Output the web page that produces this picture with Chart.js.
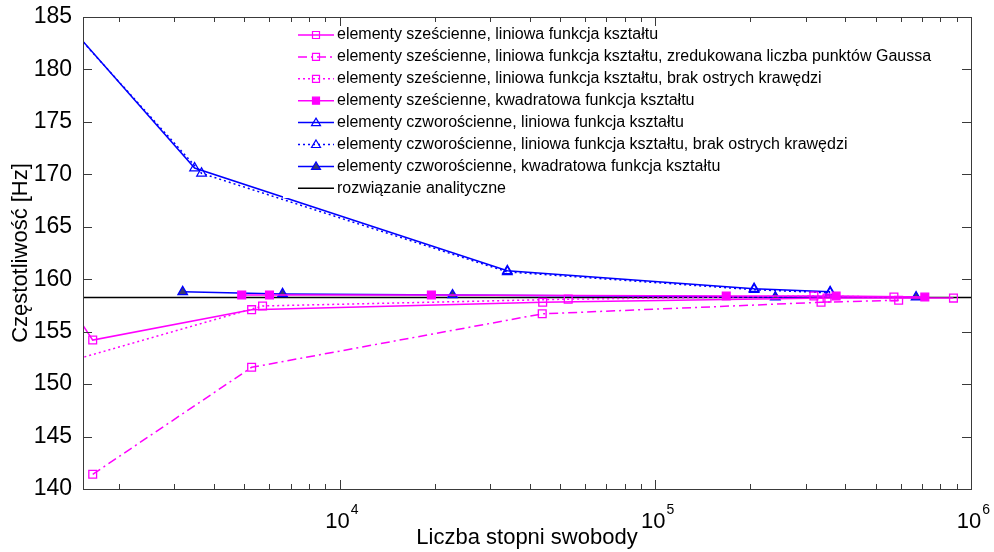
<!DOCTYPE html>
<html>
<head>
<meta charset="utf-8">
<script src="https://cdn.jsdelivr.net/npm/chart.js@4.4.1/dist/chart.umd.min.js"></script>
<style>
  html, body { margin: 0; padding: 0; background: #fff; }
  #wrap { width: 994px; height: 552px; }
</style>
</head>
<body>
<div id="wrap"><canvas id="wykres" width="994" height="552"></canvas></div>
<script>
// liczba stopni swobody (x) i częstotliwość [Hz] (y) dla każdej serii
const xSzescLin = [1400, 1653, 5267, 44000, 350000, 880000];
const ySzescLin = [157.5, 154.2, 157.1, 157.8, 158.2, 158.2];

const xSzescRed = [1653, 5267, 43850, 335000, 590000];
const ySzescRed = [141.4, 151.6, 156.7, 157.8, 158.0];

const xSzescBrak = [1400, 5705, 53000, 318000, 570000];
const ySzescBrak = [152.2, 157.45, 158.1, 158.4, 158.3];

const xSzescKw = [4900, 6000, 19540, 167800, 374000, 714000];
const ySzescKw = [158.5, 158.5, 158.5, 158.4, 158.4, 158.3];

const xCzwLin = [1400, 3475, 34000, 205600, 358000];
const yCzwLin = [184.1, 170.6, 160.8, 159.1, 158.8];

const xCzwBrak = [1400, 3656, 34000, 205600, 358000];
const yCzwBrak = [184.0, 170.1, 160.7, 159.0, 158.7];

const xCzwKw = [3186, 6600, 22800, 240000, 670000];
const yCzwKw = [158.8, 158.6, 158.5, 158.3, 158.3];

const xAnalityczne = [1540, 1000000];
const yAnalityczne = [158.25, 158.25];

const yTicks = [140, 145, 150, 155, 160, 165, 170, 175, 180, 185];
const xDekady = [4, 5, 6];

const FONT = "'Liberation Sans', Arial, sans-serif";
const MAGENTA = "#ff00ff";
const NIEBIESKI = "#0000ff";

const pary = (xs, ys) => xs.map((x, i) => ({ x, y: ys[i] }));

function seria(label, xs, ys, kolor, dash, styl, wypelnienie, r) {
  return {
    label,
    data: pary(xs, ys),
    borderColor: kolor,
    borderWidth: 1.5,
    borderDash: dash,
    pointStyle: styl,
    pointRadius: r,
    pointBorderWidth: 1.3,
    pointBorderColor: kolor,
    pointBackgroundColor: wypelnienie,
    tension: 0,
    fill: false
  };
}

const datasets = [
  seria("elementy sześcienne, liniowa funkcja kształtu", xSzescLin, ySzescLin, MAGENTA, [], "rect", "rgba(0,0,0,0)", 5.5),
  seria("elementy sześcienne, liniowa funkcja kształtu, zredukowana liczba punktów Gaussa", xSzescRed, ySzescRed, MAGENTA, [9, 4, 2, 4], "rect", "rgba(0,0,0,0)", 5.5),
  seria("elementy sześcienne, liniowa funkcja kształtu, brak ostrych krawędzi", xSzescBrak, ySzescBrak, MAGENTA, [2, 3], "rect", "rgba(0,0,0,0)", 5.5),
  seria("elementy sześcienne, kwadratowa funkcja kształtu", xSzescKw, ySzescKw, MAGENTA, [], "rect", MAGENTA, 5.5),
  seria("elementy czworościenne, liniowa funkcja kształtu", xCzwLin, yCzwLin, NIEBIESKI, [], "triangle", "rgba(0,0,0,0)", 5.5),
  seria("elementy czworościenne, liniowa funkcja kształtu, brak ostrych krawędzi", xCzwBrak, yCzwBrak, NIEBIESKI, [2, 3], "triangle", "rgba(0,0,0,0)", 5.5),
  seria("elementy czworościenne, kwadratowa funkcja kształtu", xCzwKw, yCzwKw, NIEBIESKI, [], "triangle", "#3c3c6e", 5.5),
  seria("rozwiązanie analityczne", xAnalityczne, yAnalityczne, "#000000", [], "circle", "#000", 0)
];

// legenda rysowana w obszarze wykresu
const legendaWykresu = {
  id: "legendaWykresu",
  afterDatasetsDraw(chart) {
    const { ctx } = chart;
    const x0 = 283, x1 = 966, yTop = 18, krok = 21.9, y0 = 35;
    ctx.save();
    ctx.fillStyle = "#fff";
    ctx.fillRect(x0, yTop, x1 - x0, 180);
    // dopasowanie rozmiaru czcionki do szerokości najdłuższego opisu
    ctx.font = "15px " + FONT;
    const najdl = Math.max(...chart.data.datasets.map(d => ctx.measureText(d.label).width));
    const rozmiar = Math.min(16, 15 * 619 / najdl);
    chart.data.datasets.forEach((d, i) => {
      const y = y0 + i * krok;
      ctx.strokeStyle = d.borderColor;
      ctx.lineWidth = 1.5;
      ctx.setLineDash(d.borderDash);
      ctx.beginPath();
      ctx.moveTo(298, y);
      ctx.lineTo(334, y);
      ctx.stroke();
      ctx.setLineDash([]);
      if (d.pointRadius > 0) {
        ctx.fillStyle = d.pointBackgroundColor;
        ctx.strokeStyle = d.borderColor;
        ctx.lineWidth = 1.2;
        ctx.beginPath();
        if (d.pointStyle === "rect") {
          ctx.rect(312.5, y - 3.5, 7, 7);
        } else {
          ctx.moveTo(316, y - 4.5);
          ctx.lineTo(320.5, y + 3);
          ctx.lineTo(311.5, y + 3);
          ctx.closePath();
        }
        ctx.fill();
        ctx.stroke();
      }
      ctx.fillStyle = "#000";
      ctx.font = rozmiar + "px " + FONT;
      ctx.textBaseline = "middle";
      ctx.textAlign = "left";
      ctx.fillText(d.label, 337, y);
    });
    ctx.restore();
  }
};

// ramka osi, znaczniki skierowane do środka i opisy dekad
const ramka = {
  id: "ramka",
  afterDraw(chart) {
    const { ctx, chartArea: a, scales: { x, y } } = chart;
    ctx.save();
    ctx.strokeStyle = "#3a3a3a";
    ctx.lineWidth = 1;
    ctx.strokeRect(Math.round(a.left) + 0.5, Math.round(a.top) + 0.5,
      Math.round(a.right - a.left), Math.round(a.bottom - a.top));
    ctx.beginPath();
    yTicks.forEach(v => {
      const py = Math.round(y.getPixelForValue(v)) + 0.5;
      ctx.moveTo(a.left, py); ctx.lineTo(a.left + 9, py);
      ctx.moveTo(a.right, py); ctx.lineTo(a.right - 9, py);
    });
    for (let d = 3; d <= 6; d++) {
      for (let m = 1; m <= 9; m++) {
        const v = m * Math.pow(10, d);
        if (v < x.min || v > x.max) continue;
        const px = Math.round(x.getPixelForValue(v)) + 0.5;
        const dl = m === 1 ? 9 : 5;
        ctx.moveTo(px, a.bottom); ctx.lineTo(px, a.bottom - dl);
        ctx.moveTo(px, a.top); ctx.lineTo(px, a.top + dl);
      }
    }
    ctx.stroke();
    ctx.fillStyle = "#000";
    ctx.textBaseline = "alphabetic";
    xDekady.forEach(e => {
      const px = x.getPixelForValue(Math.pow(10, e));
      ctx.font = "22px " + FONT;
      const w = ctx.measureText("10").width;
      ctx.textAlign = "left";
      ctx.fillText("10", px - w / 2 - 2, a.bottom + 39);
      ctx.font = "14px " + FONT;
      ctx.fillText(String(e), px + w / 2 - 1, a.bottom + 25);
    });
    ctx.restore();
  }
};

new Chart(document.getElementById("wykres"), {
  type: "line",
  data: { datasets },
  plugins: [legendaWykresu, ramka],
  options: {
    responsive: false,
    animation: false,
    events: [],
    layout: { padding: { top: 17, right: 23, left: 0, bottom: 0 } },
    plugins: {
      legend: { display: false },
      tooltip: { enabled: false }
    },
    scales: {
      x: {
        type: "logarithmic",
        min: 1540,
        max: 1000000,
        grid: { display: false },
        border: { display: false },
        ticks: { display: false },
        afterFit: s => { s.height = 63; },
        title: {
          display: true,
          text: "Liczba stopni swobody",
          color: "#000",
          font: { family: FONT, size: 22 },
          padding: { top: 0, bottom: 1 }
        }
      },
      y: {
        min: 140,
        max: 185,
        afterBuildTicks: s => { s.ticks = yTicks.map(v => ({ value: v })); },
        grid: { display: false },
        border: { display: false },
        ticks: {
          color: "#000",
          padding: 3,
          font: { family: FONT, size: 23 }
        },
        afterFit: s => { s.width = 83; },
        title: {
          display: true,
          text: "Częstotliwość [Hz]",
          color: "#000",
          font: { family: FONT, size: 22 },
          padding: { top: 8, bottom: 0 }
        }
      }
    }
  }
});
</script>
</body>
</html>
